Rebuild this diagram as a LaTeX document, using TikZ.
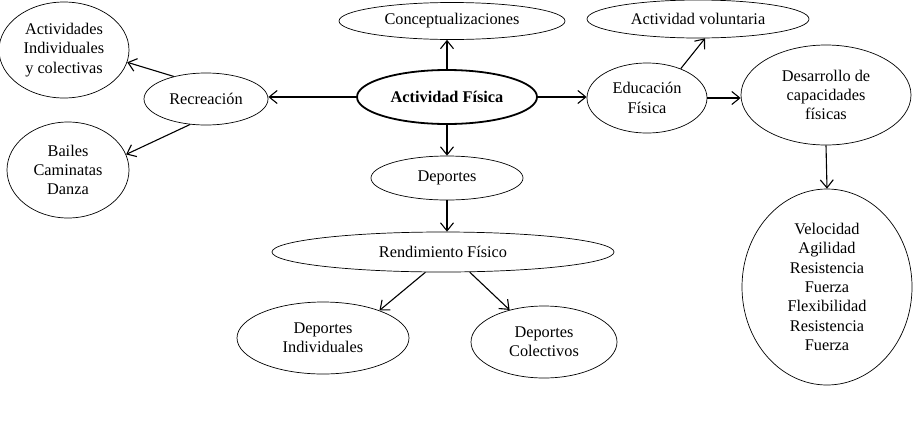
\documentclass[tikz,border=0pt]{standalone}
\usepackage{fontspec}
\setmainfont{Liberation Serif}
\usetikzlibrary{arrows.meta, shapes.geometric}

\begin{document}
\begin{tikzpicture}[x=1pt, y=-1pt]
  % Define style for the ellipses and the arrows
  \tikzstyle{idea}=[ellipse, draw, line width=0.7pt, inner sep=0pt, align=center, font=\fontsize{16.3}{19.3}\selectfont]
  \tikzstyle{link}=[draw, line width=1.1pt, -{Straight Barb[length=8pt, width=13pt]}]

  \useasboundingbox (0,0) rectangle (923,421);

  % Central node
  \node[idea, line width=1.8pt, font=\fontsize{16.3}{19.3}\selectfont\bfseries, minimum width=180pt, minimum height=54pt] (af) at (447,97) {Actividad Física};

  % Left branch
  \node[idea, minimum width=124pt, minimum height=52pt] (recre) at (206,99) {Recreación};
  \node[idea, minimum width=130pt, minimum height=96pt] (acts) at (64,50) {Actividades\\Individuales\\y colectivas};
  \node[idea, minimum width=122pt, minimum height=96pt] (bailes) at (68,170) {Bailes\\Caminatas\\Danza};

  % Middle branch
  \node[idea, minimum width=226pt, minimum height=37pt] (concep) at (452,21) {Conceptualizaciones};
  \node[idea, minimum width=152pt, minimum height=44pt] (dep) at (447,178) {Deportes};
  \node[idea, minimum width=342pt, minimum height=40pt] (rend) at (443,252) {Rendimiento Físico};
  \node[idea, minimum width=172pt, minimum height=72pt] (depind) at (323,338) {Deportes\\Individuales};
  \node[idea, minimum width=146pt, minimum height=72pt] (depcol) at (544,342) {Deportes\\Colectivos};

  % Right branch
  \node[idea, minimum width=120pt, minimum height=70pt] (edu) at (647,98) {Educación\\Física};
  \node[idea, minimum width=222pt, minimum height=38pt] (vol) at (698,19) {Actividad voluntaria};
  \node[idea, minimum width=170pt, minimum height=100pt] (desa) at (826,95) {Desarrollo de\\capacidades\\físicas};
  \node[idea, minimum width=170pt, minimum height=196pt] (capa) at (827,287) {Velocidad\\Agilidad\\Resistencia\\Fuerza\\Flexibilidad\\Resistencia\\Fuerza};

  % Connect the ellipses
  \draw[link] (af.west) -- (af.west -| recre.east);
  \draw[link] (recre.145) -- (acts.349);
  \draw[link] (recre.238) -- (bailes.15);
  \draw[link] (af.north) -- (af.north |- concep.south);
  \draw[link] (af.south) -- (af.south |- dep.north);
  \draw[link] (dep.south) -- (dep.south |- rend.north);
  \draw[link] (rend.229) -- (depind.26);
  \draw[link] (rend.323) -- (depcol.137);
  \draw[link] (af.east) -- (af.east -| edu.west);
  \draw[link] (edu.41) -- (vol.290);
  \draw[link] (edu.east) -- (edu.east -| desa.west);
  \draw[link] (desa.south) -- (capa.north);
\end{tikzpicture}
\end{document}
